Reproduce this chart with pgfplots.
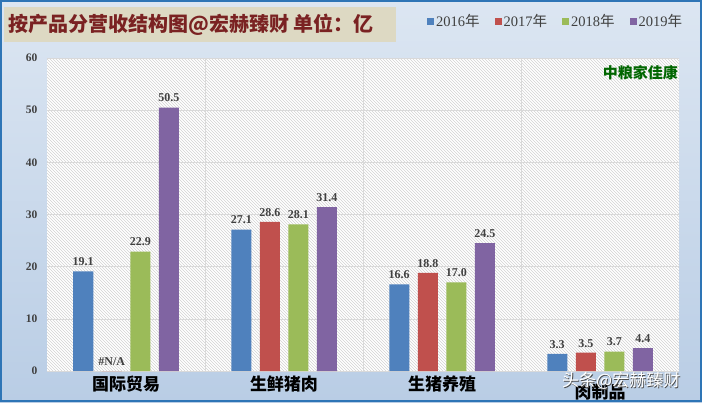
\documentclass[border=0pt]{standalone}
\usepackage{pgfplots}
\pgfplotsset{compat=1.18}
\usepackage{fontspec}
\setmainfont{Liberation Serif}
\newfontfamily\cjk{Noto Sans CJK SC}
\usetikzlibrary{patterns}
\definecolor{cBlue}{HTML}{4F81BD}
\definecolor{cRed}{HTML}{C0504D}
\definecolor{cGreen}{HTML}{9BBB59}
\definecolor{cPurple}{HTML}{8064A2}
\definecolor{titlebg}{HTML}{DDD9C3}
\definecolor{titlefg}{HTML}{7A2222}
\definecolor{bgtop}{HTML}{DCE6F2}
\definecolor{bgbot}{HTML}{B9CDE5}
\definecolor{frame}{HTML}{2E75B6}
\definecolor{lbl}{HTML}{404040}
\begin{document}
\begin{tikzpicture}[x=1pt,y=1pt]
\shade[top color=bgtop,bottom color=bgbot] (0,0) rectangle (702,402);
\draw[frame,line width=2pt] (1,1) rectangle (701,401);
\useasboundingbox (0,0) rectangle (702,402);
\fill[titlebg] (4,360) rectangle (396,395);
\node[anchor=west,text=titlefg,font=\cjk\bfseries\fontsize{20}{22}\selectfont,inner sep=0pt] at (8,377) {按产品分营收结构图@宏赫臻财 单位：亿};
\begin{axis}[
  at={(47pt,31pt)}, anchor=south west,
  width=632pt, height=313pt, scale only axis,
  ybar=8.5pt, bar width=20pt,
  xmin=-0.5, xmax=3.5, ymin=0, ymax=60,
  xtick={0,1,2,3},
  xticklabels={国际贸易,生鲜猪肉,生猪养殖,\raisebox{-8pt}[\height]{肉制品}},
  xticklabel style={font=\cjk\bfseries\fontsize{17}{18}\selectfont,text=black,yshift=-1pt},
  minor xtick={0.5,1.5,2.5},
  xminorgrids, minor tick length=0pt, major tick length=0pt,
  ytick={0,10,...,60},
  ymajorgrids,
  grid style={draw=gray!30,line width=0.6pt},
  minor grid style={draw=gray!30,line width=0.6pt},
  yticklabel style={font=\bfseries\fontsize{11.5}{12}\selectfont,text=lbl,xshift=-6pt},
  /pgf/number format/assume math mode=true,
  axis line style={draw=none},
  axis background/.style={fill=white,postaction={pattern=north west lines,pattern color=gray!35}},
  nodes near coords,
  point meta=explicit symbolic,
  every node near coord/.append style={font=\bfseries\fontsize{12}{12}\selectfont,text=lbl,yshift=2pt},
  legend columns=4,
  legend style={at={(1.013,1.118)},anchor=east,draw=none,fill=none,
    font=\fontsize{14.5}{15}\selectfont\color{lbl},
    /tikz/every even column/.append style={column sep=13pt}},
  legend image code/.code={\fill[#1,draw=none] (2pt,-3.5pt) rectangle (9pt,3.5pt);},
]
\addplot[fill=cBlue,draw=none] coordinates {(0,19.1)[19.1] (1,27.1)[27.1] (2,16.6)[16.6] (3,3.3)[3.3]};
\addplot[fill=cRed,draw=none] coordinates {(0,0)[\#N/A] (1,28.6)[28.6] (2,18.8)[18.8] (3,3.5)[3.5]};
\addplot[fill=cGreen,draw=none] coordinates {(0,22.9)[22.9] (1,28.1)[28.1] (2,17.0)[17.0] (3,3.7)[3.7]};
\addplot[fill=cPurple,draw=none] coordinates {(0,50.5)[50.5] (1,31.4)[31.4] (2,24.5)[24.5] (3,4.4)[4.4]};
\legend{2016{\cjk 年},2017{\cjk 年},2018{\cjk 年},2019{\cjk 年}}
\end{axis}
\node[anchor=east,text=green!40!black,font=\cjk\bfseries\fontsize{15}{16}\selectfont,inner sep=0pt] at (678,329) {中粮家佳康};
\node[anchor=west,text=black!70,font=\cjk\fontsize{17}{18}\selectfont,inner sep=0pt] at (562.8,20.2) {头条@宏赫臻财};
\node[anchor=west,text=white,font=\cjk\fontsize{17}{18}\selectfont,inner sep=0pt] at (562,21) {头条@宏赫臻财};
\end{tikzpicture}
\end{document}
